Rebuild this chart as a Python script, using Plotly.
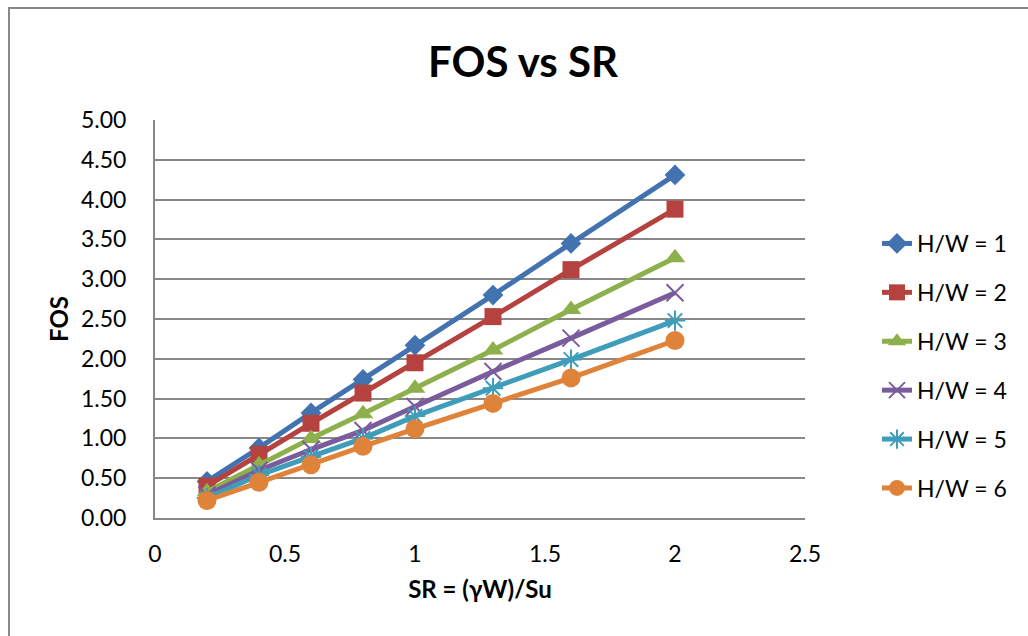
import plotly.graph_objects as go

# Slenderness ratio SR = (γW)/Su
sr = [0.2, 0.4, 0.6, 0.8, 1.0, 1.3, 1.6, 2.0]

# Factor of safety for each H/W ratio
fos_hw1 = [0.46, 0.88, 1.32, 1.74, 2.17, 2.80, 3.45, 4.31]
fos_hw2 = [0.40, 0.80, 1.19, 1.57, 1.95, 2.53, 3.12, 3.88]
fos_hw3 = [0.33, 0.67, 1.00, 1.31, 1.63, 2.11, 2.62, 3.27]
fos_hw4 = [0.29, 0.60, 0.86, 1.10, 1.40, 1.84, 2.26, 2.83]
fos_hw5 = [0.25, 0.54, 0.77, 1.00, 1.28, 1.63, 1.99, 2.48]
fos_hw6 = [0.22, 0.45, 0.67, 0.90, 1.12, 1.44, 1.76, 2.23]

series_names = ["H/W = 1", "H/W = 2", "H/W = 3", "H/W = 4", "H/W = 5", "H/W = 6"]
series_values = [fos_hw1, fos_hw2, fos_hw3, fos_hw4, fos_hw5, fos_hw6]

colors = ["#4272AF", "#B5423F", "#8DB04C", "#7A5C9C", "#3F9DBA", "#E0833A"]
symbols = ["diamond", "square", "triangle-up", "x-thin-open", "asterisk-open", "circle"]
sizes = [16, 17, 18, 17, 17, 19]

FONT = "Lato"
GRID = "#888888"

fig = go.Figure()
for name, vals, col, sym, sz in zip(series_names, series_values, colors, symbols, sizes):
    thin = sym.endswith("-open")
    fig.add_trace(go.Scatter(
        x=sr, y=vals, name=name, legendgroup=name,
        mode="lines+markers",
        line=dict(color=col, width=5),
        marker=dict(symbol=sym, size=sz, color=col,
                    line=dict(color=col, width=2 if thin else 0)),
    ))

# Chart outline
fig.add_shape(type="rect", xref="paper", yref="paper",
              x0=(9 - 155) / 650, x1=(1040 - 155) / 650,
              y0=(518 - 660) / 398, y1=(518 - 8) / 398,
              line=dict(color="#888888", width=2), fillcolor="rgba(0,0,0,0)",
              layer="below")

fig.update_layout(
    width=1028, height=636,
    margin=dict(l=155, r=223, t=120, b=118),
    paper_bgcolor="white", plot_bgcolor="white",
    font=dict(family=FONT, color="#000000"),
    title=dict(text="<b>FOS vs SR</b>", x=523 / 1028, xanchor="center",
               y=1 - 62 / 636, yanchor="middle",
               font=dict(size=42, family=FONT, color="#000000")),
    xaxis=dict(range=[0, 2.5], dtick=0.5, tick0=0,
               showgrid=False, zeroline=False,
               showline=True, linecolor=GRID, linewidth=2,
               ticks="outside", ticklen=14, tickcolor="rgba(0,0,0,0)",
               tickfont=dict(size=23, family=FONT, color="#000000"),
               title=dict(text="<b>SR = (γW)/Su</b>", standoff=16,
                          font=dict(size=24, family=FONT, color="#000000"))),
    yaxis=dict(range=[0, 5], dtick=0.5, tick0=0, tickformat=".2f",
               showgrid=True, gridcolor=GRID, gridwidth=1.5,
               zeroline=False,
               showline=True, linecolor=GRID, linewidth=2,
               ticks="outside", ticklen=22, tickcolor="rgba(0,0,0,0)",
               tickfont=dict(size=23, family=FONT, color="#000000"),
               title=dict(text="<b>FOS</b>", standoff=6,
                          font=dict(size=24, family=FONT, color="#000000"))),
    legend=dict(x=(877 - 155) / 650, xanchor="left",
                y=(518 - 222) / 398, yanchor="top",
                font=dict(size=23, family=FONT, color="#000000"),
                tracegroupgap=16, itemwidth=30,
                bgcolor="rgba(0,0,0,0)"),
    showlegend=True,
)

fig.write_html("out.html")
